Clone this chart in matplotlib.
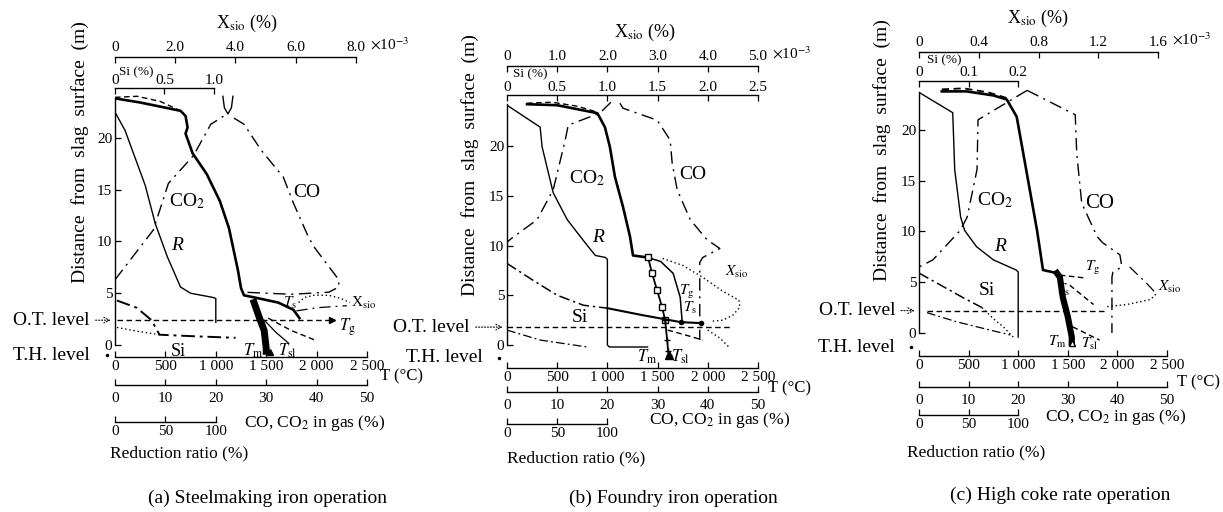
import matplotlib
matplotlib.use("Agg")
import matplotlib.pyplot as plt

plt.rcParams['font.family'] = ['Liberation Serif', 'DejaVu Serif']
plt.rcParams['mathtext.fontset'] = 'stix'
plt.rcParams['axes.linewidth'] = 1.0

W, H = 1223, 512

### scale ticks shared by all panels
t_ticks = [0, 500, 1000, 1500, 2000, 2500]
t_labels = ['0', '500', '1 000', '1 500', '2 000', '2 500']
co_ticks = [0, 10, 20, 30, 40, 50]
r_ticks = [0, 50, 100]
d_ticks = [0, 5, 10, 15, 20]

### (a) steelmaking iron
a_si_ticks = [0, 0.5, 1.0]
a_si_labels = ['0', '0.5', '1.0']
a_x_ticks = [0, 2.0, 4.0, 6.0, 8.0]
a_x_labels = ['0', '2.0', '4.0', '6.0', '8.0']
a_tg_T = [0, 250, 650, 700, 720, 700, 770, 910, 1040, 1130, 1220, 1250, 1280, 1380, 1620, 1770, 1830]
a_tg_d = [23.8, 23.4, 22.6, 22.1, 21.0, 20.4, 18.5, 16.5, 13.9, 11.3, 7.2, 5.5, 4.8, 4.6, 4.1, 3.4, 2.6]
a_top_T = [0, 220, 450, 650]
a_top_d = [23.9, 24.0, 23.5, 22.6]
a_cap_T = [1070, 1085, 1120, 1155, 1170]
a_cap_d = [24.0, 22.9, 22.3, 22.9, 24.0]
a_r_pct = [1, 10, 30, 40, 52, 65, 75, 97, 100, 100]
a_r_d = [22.3, 20.7, 15.4, 11.7, 8.5, 5.6, 5.0, 4.6, 4.5, 2.2]
a_co2_pct = [0, 7.6, 10.6, 15.6, 19.0, 21.6]
a_co2_d = [6.3, 11.1, 15.6, 18.3, 21.3, 22.1]
a_co_pct = [23.6, 25.6, 29.0, 33.4, 35.4, 38.4, 39.6, 44.4, 44.4, 42.4, 35.0, 25.6]
a_co_d = [21.9, 21.3, 18.8, 16.2, 13.7, 10.4, 9.4, 6.3, 5.6, 5.1, 4.9, 5.1]
a_si_pct = [0.02, 0.22, 0.37, 0.45, 0.8, 1.22]
a_si_d = [4.3, 3.6, 2.4, 1.0, 0.85, 0.7]
a_si2_pct = [0.02, 0.25, 0.45]
a_si2_d = [1.7, 1.3, 1.0]
a_x_val = [6.1, 6.3, 6.6, 7.1, 7.5, 7.8]
a_x_d = [4.1, 4.6, 4.8, 4.8, 4.5, 4.1]
a_ts_T = [1800, 2000, 2300]
a_ts_d = [3.3, 3.6, 3.8]
a_tm_T = [1380, 1430, 1480, 1500, 1500]
a_tm_d = [4.1, 2.7, 1.4, -0.3, -0.6]
a_tsl_T = [1480, 1600, 1720]
a_tsl_d = [2.4, 1.2, 0.2]
a_dsh_T = [1520, 1750, 1980]
a_dsh_d = [2.6, 1.4, 0.5]
a_ot_T = [20, 2150]
a_ot_d = 2.4
a_th_d = -1.0

### (b) foundry iron
b_si_ticks = [0, 0.5, 1.0, 1.5, 2.0, 2.5]
b_si_labels = ['0', '0.5', '1.0', '1.5', '2.0', '2.5']
b_x_ticks = [0, 1.0, 2.0, 3.0, 4.0, 5.0]
b_x_labels = ['0', '1.0', '2.0', '3.0', '4.0', '5.0']
b_tg_T = [200, 500, 900, 975, 1025, 1075, 1155, 1225, 1255, 1400]
b_tg_d = [24.2, 24.1, 23.3, 21.9, 19.9, 16.9, 13.9, 10.9, 9.0, 8.8]
b_top_T = [200, 450, 700, 900]
b_top_d = [24.3, 24.4, 24.0, 23.4]
b_ts_T = [1400, 1530, 1655, 1725, 1745]
b_ts_d = [8.8, 8.4, 7.2, 4.8, 2.3]
b_tm_T = [1405, 1445, 1495, 1545, 1575]
b_tm_d = [8.8, 7.2, 5.5, 3.8, 2.5]
b_tsl_T = [1575, 1595, 1605, 1610]
b_tsl_d = [2.5, 0.5, -0.6, -1.0]
b_r_pct = [0, 33, 35, 46, 60, 73, 80, 88, 98, 100, 100, 102, 140]
b_r_d = [24.1, 21.9, 19.9, 15.3, 12.6, 10.9, 10.0, 9.0, 8.8, 8.6, 0.0, -0.2, -0.2]
b_co2_pct = [20.7, 18.5, 12.2, 11.6, 9.2, 6.0, 0.6, 0]
b_co2_d = [24.4, 23.3, 22.1, 20.6, 15.6, 12.6, 10.6, 10.3]
b_co_pct = [22.5, 23.1, 29.9, 32.5, 32.9, 33.9, 36.5, 39.8, 42.4, 39.0, 38.4, 38.4]
b_co_d = [24.3, 23.8, 22.6, 20.6, 18.3, 15.6, 12.6, 10.6, 9.7, 8.8, 8.3, 0.5]
b_si_pct = [0, 0.26, 0.5, 0.76, 1.0]
b_si_d = [8.2, 6.5, 5.0, 4.0, 3.7]
b_si2_pct = [1.0, 1.35, 1.73, 1.93]
b_si2_d = [3.7, 3.0, 2.3, 2.2]
b_x_val = [3.1, 3.5, 3.9, 4.3, 4.62, 4.64, 4.5, 4.3, 4.1]
b_x_d = [8.7, 8.0, 6.8, 5.4, 4.5, 3.8, 3.0, 2.5, 2.4]
b_low_T = [0, 330, 800]
b_low_d = [1.5, 0.5, -0.2]
b_dsh_T = [1600, 1780, 1950]
b_dsh_d = [1.5, 1.0, 0.5]
b_dot_T = [2000, 2120, 2220]
b_dot_d = [1.5, 0.7, -0.3]
b_ot_T = [0, 2220]
b_ot_d = 1.8
b_th_d = -1.3

### (c) high coke rate
c_si_ticks = [0, 0.1, 0.2]
c_si_labels = ['0', '0.1', '0.2']
c_x_ticks = [0, 0.4, 0.8, 1.2, 1.6]
c_x_labels = ['0', '0.4', '0.8', '1.2', '1.6']
c_tg_T = [230, 480, 750, 885, 985, 1190, 1250, 1390]
c_tg_d = [23.8, 23.8, 23.4, 23.0, 21.3, 10.1, 6.2, 5.9]
c_top_T = [230, 450, 700, 900]
c_top_d = [24.0, 24.1, 23.7, 23.1]
c_tm_T = [1390, 1420, 1450, 1500, 1540, 1540]
c_tm_d = [5.9, 5.5, 3.5, 1.6, -0.4, -1.0]
c_r_pct = [0, 34, 36, 42, 46, 58, 75, 98, 100, 100]
c_r_d = [23.7, 21.7, 16.1, 11.4, 10.1, 8.5, 7.2, 6.2, 6.0, -0.4]
c_co2_pct = [21.8, 11.9, 11.7, 9.7, 8.3, 2.8, 0]
c_co2_d = [23.9, 21.0, 16.1, 11.4, 10.1, 7.2, 6.5]
c_co_pct = [21.8, 31.5, 31.8, 32.8, 35.9, 37.0, 40.5, 40.9, 39.1, 38.9, 38.9]
c_co_d = [23.9, 21.5, 17.7, 12.8, 9.5, 8.9, 7.7, 6.5, 6.0, 5.5, 0.0]
c_si_pct = [0, 0.044, 0.088, 0.127]
c_si_d = [5.9, 4.7, 3.5, 2.5]
c_si2_pct = [0.127, 0.15, 0.17, 0.19]
c_si2_d = [2.5, 1.4, 0.6, -0.4]
c_low_T = [80, 380, 710, 920]
c_low_d = [2.0, 1.1, 0.3, -0.2]
c_x_val = [1.26, 1.39, 1.55, 1.59]
c_x_d = [2.6, 2.8, 3.3, 3.9]
c_x2_val = [1.41, 1.53, 1.58]
c_x2_d = [6.5, 4.8, 4.0]
c_d1_T = [1420, 1690]
c_d1_d = [5.7, 5.4]
c_d2_T = [1520, 1760]
c_d2_d = [4.7, 2.8]
c_tsl_T = [1550, 1820]
c_tsl_d = [0.6, -0.7]
c_ot_T = [80, 1900]
c_ot_d = 2.2
c_th_d = -1.4

DASH = (0, (4, 2.5))
DOT = (0, (1, 2))
CHAIN = (0, (9, 4, 1.5, 4))
LCHAIN = (0, (7, 2.5, 1.5, 2.5))
YLABEL = 'Distance  from  slag  surface  (m)'

fig = plt.figure(figsize=(W / 100, H / 100), dpi=100)


def ftext(x, y, s, **kw):
    fig.text(x / W, 1 - y / H, s, **kw)


def scale_line(ax, where, pos, lim, top, ticks, labels, pad):
    t = ax.twiny()
    for s in t.spines.values():
        s.set_visible(False)
    t.spines[where].set_visible(True)
    t.spines[where].set_position(('axes', pos))
    t.spines[where].set_bounds(0, top)
    t.xaxis.set_ticks_position(where)
    t.xaxis.set_label_position(where)
    t.set_xlim(*lim)
    t.set_xticks(ticks, labels)
    t.tick_params(direction='in', length=4, width=0.9, labelsize=11, pad=pad)
    return t


def panel(box, ylim, ytop, si_pos, si_max, si_ticks, si_labels, x_max, x_ticks, x_labels, co_pos, r_pos):
    left, right, top, bottom = box
    ax = fig.add_axes([left / W, 1 - bottom / H, (right - left) / W, (bottom - top) / H])
    ax.patch.set_alpha(0)
    ax.set_xlim(0, 2500)
    ax.set_ylim(*ylim)
    ax.spines['top'].set_visible(False)
    ax.spines['right'].set_visible(False)
    ax.spines['left'].set_bounds(0, ytop)
    ax.set_xticks(t_ticks, t_labels)
    ax.set_yticks(d_ticks)
    ax.tick_params(direction='in', length=4, width=0.9, labelsize=11)
    ax.tick_params(axis='x', pad=2)
    ax.tick_params(axis='y', pad=2)
    si = scale_line(ax, 'top', si_pos, (0, si_max), si_ticks[-1], si_ticks, si_labels, 1)
    xs = scale_line(ax, 'top', 1.0, (0, x_max), x_ticks[-1], x_ticks, x_labels, 2)
    xs.annotate(r'$\times$10$^{-3}$', xy=(x_ticks[-1], 1.0), xycoords=('data', 'axes fraction'),
                xytext=(10, 9), textcoords='offset points', ha='left', va='center', fontsize=11,
                annotation_clip=False)
    co = scale_line(ax, 'bottom', co_pos, (0, 50), 50, co_ticks, [str(v) for v in co_ticks], 5)
    rr = scale_line(ax, 'bottom', r_pos, (0, 250), 100, r_ticks, [str(v) for v in r_ticks], 2)
    return ax, si, xs, co, rr


def side_labels(ax, ot_d, th_d, ot_x, th_x):
    ax.text(ot_x, ot_d, 'O.T. level', ha='right', va='center', fontsize=14)
    ax.annotate('', xy=(-15, ot_d), xytext=(ot_x + 30, ot_d),
                arrowprops=dict(arrowstyle='->', lw=0.8, ls=':'), annotation_clip=False)
    ax.text(th_x, th_d, 'T.H. level', ha='right', va='center', fontsize=14)
    ax.plot([-80], [th_d], 'k.', ms=3, clip_on=False)


def lab(ax, x, y, s, size=14, **kw):
    ax.text(x, y, s, ha='center', va='center', fontsize=size, **kw)


### ---- panel (a)
ax, si, xs, co, rr = panel((115, 367, 57, 357), (-1.15, 27.79), 23.8, 0.897, 2.55, a_si_ticks, a_si_labels,
                           8.37, a_x_ticks, a_x_labels, -0.093, -0.216)
ax.plot(a_tg_T, a_tg_d, 'k-', lw=1.9)
ax.plot(a_top_T, a_top_d, 'k', ls=DASH, lw=1.0)
ax.plot(a_cap_T, a_cap_d, 'k-', lw=1.0)
rr.plot(a_r_pct, a_r_d, 'k-', lw=1.0)
co.plot(a_co2_pct, a_co2_d, 'k', ls=CHAIN, lw=1.0)
co.plot(a_co_pct, a_co_d, 'k', ls=CHAIN, lw=1.0)
si.plot(a_si_pct, a_si_d, 'k', ls=LCHAIN, lw=1.4)
si.plot(a_si2_pct, a_si2_d, 'k', ls=DOT, lw=1.0)
xs.plot(a_x_val, a_x_d, 'k', ls=DOT, lw=1.0)
ax.plot(a_ts_T, a_ts_d, 'k', ls=CHAIN, lw=0.9)
ax.plot(a_tm_T, a_tm_d, 'k-', lw=5)
ax.plot(a_tm_T[-1] + 40, a_th_d + 0.3, 'k^', ms=5)
ax.plot(a_tsl_T, a_tsl_d, 'k-', lw=0.9)
ax.plot(a_dsh_T, a_dsh_d, 'k', ls=DASH, lw=1.0)
ax.plot(a_ot_T, [a_ot_d] * 2, 'k', ls=DASH, lw=1.0)
ax.plot(a_ot_T[-1], a_ot_d, 'k>', ms=4)
lab(ax, 615, 9.6, 'R', style='italic')
lab(ax, 715, 13.9, r'CO$_2$')
lab(ax, 1905, 14.7, 'CO')
lab(ax, 625, -0.6, 'Si', 13)
lab(ax, 1370, -0.6, r'$T_{\rm m}$', 12)
lab(ax, 1715, -0.6, r'$T_{\rm sl}$', 12)
lab(ax, 2310, 1.7, r'$T_{\rm g}$', 12)
lab(ax, 1735, 4.1, r'$T_{\rm s}$', 11)
lab(ax, 2470, 4.1, r'X$_{\rm sio}$', 11)
side_labels(ax, a_ot_d, a_th_d, -250, -250)
ftext(80, 152, YLABEL, rotation=90, ha='center', va='center', fontsize=14)
ftext(247, 23, r'X$_{\rm sio}$ (%)', ha='center', va='center', fontsize=13)
ftext(119, 78, 'Si (%)', ha='left', va='bottom', fontsize=9.5)
ftext(380, 376, 'T (°C)', ha='left', va='center', fontsize=12)
ftext(315, 423, r'CO, CO$_2$ in gas (%)', ha='center', va='center', fontsize=12.5)
ftext(110, 453, 'Reduction ratio (%)', ha='left', va='center', fontsize=12.5)
ftext(268, 498, '(a) Steelmaking iron operation', ha='center', va='center', fontsize=14)

### ---- panel (b)
ax, si, xs, co, rr = panel((507, 758, 66, 368), (-2.31, 28.04), 24.2, 0.904, 2.5, b_si_ticks, b_si_labels,
                           5.0, b_x_ticks, b_x_labels, -0.08, -0.185)
ax.plot(b_tg_T, b_tg_d, 'k-', lw=1.9)
ax.plot(b_top_T, b_top_d, 'k', ls=DASH, lw=1.0)
ax.plot(b_ts_T, b_ts_d, 'k-', lw=1.1)
ax.plot(b_tm_T, b_tm_d, 'k-', lw=1.3, marker='s', ms=4.5, mfc='white', mew=1.0)
ax.plot(b_tsl_T, b_tsl_d, 'k-', lw=1.3, marker='+', ms=5)
ax.plot(b_tsl_T[-1], b_tsl_d[-1], 'k^', ms=6)
rr.plot(b_r_pct, b_r_d, 'k-', lw=1.0)
co.plot(b_co2_pct, b_co2_d, 'k', ls=CHAIN, lw=1.0)
co.plot(b_co_pct, b_co_d, 'k', ls=CHAIN, lw=1.0)
si.plot(b_si_pct, b_si_d, 'k', ls=LCHAIN, lw=1.1)
si.plot(b_si2_pct, b_si2_d, 'k-', lw=1.5)
si.plot(b_si2_pct[-2:], b_si2_d[-2:], 'ko', ms=3)
xs.plot(b_x_val, b_x_d, 'k', ls=DOT, lw=1.0)
ax.plot(b_low_T, b_low_d, 'k', ls=LCHAIN, lw=0.9)
ax.plot(b_dsh_T, b_dsh_d, 'k', ls=DASH, lw=1.0)
ax.plot(b_dot_T, b_dot_d, 'k', ls=DOT, lw=1.0)
ax.plot(b_ot_T, [b_ot_d] * 2, 'k', ls=DASH, lw=1.0)
lab(ax, 797, 16.8, r'CO$_2$')
lab(ax, 1853, 17.1, 'CO')
lab(ax, 906, 10.8, 'R', style='italic')
lab(ax, 727, 2.8, 'Si', 14)
lab(ax, 1793, 5.3, r'$T_{\rm g}$', 11)
lab(ax, 1823, 3.7, r'$T_{\rm s}$', 11)
lab(ax, 2290, 7.3, r'$X_{\rm sio}$', 11)
lab(ax, 1394, -1.2, r'$T_{\rm m}$', 12)
lab(ax, 1723, -1.2, r'$T_{\rm sl}$', 12)
side_labels(ax, b_ot_d, b_th_d, -370, -240)
ftext(470, 165, YLABEL, rotation=90, ha='center', va='center', fontsize=14)
ftext(645, 32, r'X$_{\rm sio}$ (%)', ha='center', va='center', fontsize=13)
ftext(513, 80, 'Si (%)', ha='left', va='bottom', fontsize=9.5)
ftext(768, 388, 'T (°C)', ha='left', va='center', fontsize=12)
ftext(720, 420, r'CO, CO$_2$ in gas (%)', ha='center', va='center', fontsize=12.5)
ftext(507, 458, 'Reduction ratio (%)', ha='left', va='center', fontsize=12.5)
ftext(673, 498, '(b) Foundry iron operation', ha='center', va='center', fontsize=14)

### ---- panel (c)
ax, si, xs, co, rr = panel((919, 1167, 52, 356), (-2.27, 27.68), 23.7, 0.905, 0.5, c_si_ticks, c_si_labels,
                           1.66, c_x_ticks, c_x_labels, -0.102, -0.194)
ax.plot(c_tg_T, c_tg_d, 'k-', lw=1.9)
ax.plot(c_top_T, c_top_d, 'k', ls=DASH, lw=1.3)
ax.plot(c_tm_T, c_tm_d, 'k-', lw=4.5)
ax.plot(c_tm_T[-1], c_tm_d[-1], 'k^', ms=5, mfc='white')
rr.plot(c_r_pct, c_r_d, 'k-', lw=1.0)
co.plot(c_co2_pct, c_co2_d, 'k', ls=CHAIN, lw=1.0)
co.plot(c_co_pct, c_co_d, 'k', ls=CHAIN, lw=1.0)
si.plot(c_si_pct, c_si_d, 'k', ls=LCHAIN, lw=1.1)
si.plot(c_si2_pct, c_si2_d, 'k', ls=DOT, lw=1.0)
xs.plot(c_x_val, c_x_d, 'k', ls=DOT, lw=1.0)
xs.plot(c_x2_val, c_x2_d, 'k', ls=CHAIN, lw=0.9)
ax.plot(c_low_T, c_low_d, 'k', ls=LCHAIN, lw=0.9)
ax.plot(c_d1_T, c_d1_d, 'k', ls=DASH, lw=1.0)
ax.plot(c_d2_T, c_d2_d, 'k', ls=DASH, lw=1.0)
ax.plot(c_tsl_T, c_tsl_d, 'k', ls=DASH, lw=1.0)
ax.plot(c_ot_T, [c_ot_d] * 2, 'k', ls=DASH, lw=1.0)
lab(ax, 685, 4.2, 'Si', 14)
lab(ax, 816, 8.5, 'R', style='italic')
lab(ax, 766, 13.1, r'CO$_2$')
lab(ax, 1824, 12.8, 'CO', 15)
lab(ax, 1754, 6.4, r'$T_{\rm g}$', 11)
lab(ax, 1452, 4.2, r'$T_{\rm s}$', 11)
lab(ax, 2530, 4.5, r'$X_{\rm sio}$', 11)
lab(ax, 1391, -0.9, r'$T_{\rm m}$', 11)
lab(ax, 1724, -1.1, r'$T_{\rm sl}$', 11)
side_labels(ax, c_ot_d, c_th_d, -240, -240)
ftext(882, 150, YLABEL, rotation=90, ha='center', va='center', fontsize=14)
ftext(1038, 18, r'X$_{\rm sio}$ (%)', ha='center', va='center', fontsize=13)
ftext(927, 66, 'Si (%)', ha='left', va='bottom', fontsize=9.5)
ftext(1220, 382, 'T (°C)', ha='right', va='center', fontsize=12)
ftext(1116, 417, r'CO, CO$_2$ in gas (%)', ha='center', va='center', fontsize=12.5)
ftext(907, 452, 'Reduction ratio (%)', ha='left', va='center', fontsize=12.5)
ftext(1060, 495, '(c) High coke rate operation', ha='center', va='center', fontsize=14)

plt.savefig('out.png', dpi=100)
